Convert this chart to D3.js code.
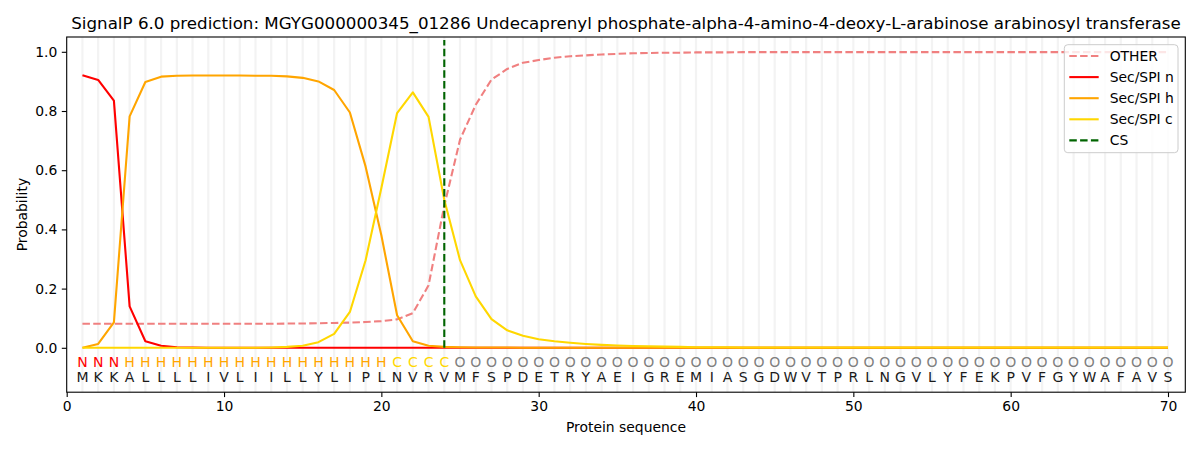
<!DOCTYPE html>
<html>
<head>
<meta charset="utf-8">
<script src="https://cdn.jsdelivr.net/npm/d3@7"></script>
<style>
body { margin: 0; background: #fff; }
svg { display: block; font-family: "DejaVu Sans", sans-serif; }
</style>
</head>
<body>
<svg id="chart" width="1200" height="450"></svg>
<script>
const titleText = "SignalP 6.0 prediction: MGYG000000345_01286 Undecaprenyl phosphate-alpha-4-amino-4-deoxy-L-arabinose arabinosyl transferase";
const sequence = "MKKALLLLIVLIILLYLIPLNVRVMFSPDETRYAEIGREMIASGDWVTPRLNGVLYFEKPVFGYWAFAVS".split("");
const classes = "NNNHHHHHHHHHHHHHHHHHCCCCOOOOOOOOOOOOOOOOOOOOOOOOOOOOOOOOOOOOOOOOOOOOOO".split("");
const positions = d3.range(1, 71);

const otherVals = [
  0.081,0.081,0.081,0.081,0.081,0.081,0.081,0.081,0.081,0.081,
  0.081,0.081,0.081,0.082,0.082,0.083,0.084,0.085,0.087,0.090,
  0.096,0.117,0.211,0.480,0.703,0.821,0.906,0.942,0.963,0.972,
  0.980,0.985,0.988,0.991,0.993,0.995,0.996,0.997,0.997,0.998,
  0.998,0.998,0.999,0.999,0.999,0.999,0.999,0.999,0.999,0.999,
  0.999,0.999,0.999,0.999,0.999,0.999,0.999,0.999,0.999,0.999,
  0.999,0.999,0.999,0.999,0.999,0.999,0.999,0.999,0.999,0.999
];
const nVals = [
  0.921,0.905,0.835,0.140,0.022,0.007,0.002,0.001,0,0,
  0,0,0,0,0,0,0,0,0,0,
  0,0,0,0,0,0,0,0,0,0,
  0,0,0,0,0,0,0,0,0,0,
  0,0,0,0,0,0,0,0,0,0,
  0,0,0,0,0,0,0,0,0,0,
  0,0,0,0,0,0,0,0,0,0
];
const hVals = [
  0.000,0.013,0.086,0.782,0.898,0.916,0.919,0.920,0.920,0.920,
  0.920,0.919,0.919,0.917,0.912,0.900,0.871,0.795,0.612,0.380,
  0.110,0.022,0.007,0.003,0.002,0.001,0.001,0.001,0,0,
  0,0,0,0,0,0,0,0,0,0,
  0,0,0,0,0,0,0,0,0,0,
  0,0,0,0,0,0,0,0,0,0,
  0,0,0,0,0,0,0,0,0,0
];
const cVals = [
  0,0,0,0,0,0,0,0,0,0,
  0,0,0.001,0.003,0.007,0.019,0.047,0.121,0.296,0.540,
  0.793,0.863,0.780,0.500,0.296,0.174,0.097,0.059,0.041,0.029,
  0.022,0.017,0.013,0.010,0.008,0.006,0.005,0.004,0.003,0.002,
  0.002,0.002,0.001,0.001,0.001,0.001,0.001,0.001,0.001,0.001,
  0.001,0.001,0.001,0.001,0.001,0.001,0.001,0.001,0.001,0.001,
  0.001,0.001,0.001,0.001,0.001,0.001,0.001,0.001,0.001,0.001
];
const csPosition = 24;
const csTop = 1.04;
const xTicks = [0,10,20,30,40,50,60,70];
const yTicks = [0.0,0.2,0.4,0.6,0.8,1.0];

const seriesNames = ["OTHER","Sec/SPI n","Sec/SPI h","Sec/SPI c"];
const seriesValues = [otherVals, nVals, hVals, cVals];
const seriesColors = ["#f08080","#ff0000","#ffa500","#ffd700"];
const seriesDash = ["7.5,3.3", null, null, null];
const classColors = {N:"#ff0000", H:"#ffa500", C:"#ffd700", O:"#808080"};

const svg = d3.select("#chart");
const L = 66.7, R = 1185.3, T = 37, B = 392.2;
const x = d3.scaleLinear().domain([0, 71.1]).range([L, R]);
const y = d3.scaleLinear().domain([-0.15, 1.05]).range([B, T]);

svg.append("rect").attr("width",1200).attr("height",450).attr("fill","#fff");

// vertical grid lines per residue
svg.append("g").selectAll("line").data(positions).join("line")
  .attr("x1", d => x(d)).attr("x2", d => x(d))
  .attr("y1", T).attr("y2", B)
  .attr("stroke", "#f3f3f3").attr("stroke-width", 2.2);

// series lines
const lineGen = d3.line().x((d,i) => x(positions[i])).y(d => y(d));
seriesValues.forEach((vals, k) => {
  svg.append("path").datum(vals)
    .attr("d", lineGen)
    .attr("fill","none")
    .attr("stroke", seriesColors[k])
    .attr("stroke-width", 2.1)
    .attr("stroke-linejoin","round")
    .attr("stroke-dasharray", seriesDash[k]);
});

// CS line
svg.append("line")
  .attr("x1", x(csPosition)).attr("x2", x(csPosition))
  .attr("y1", y(0)).attr("y2", y(csTop))
  .attr("stroke", "#006400").attr("stroke-width", 2.1)
  .attr("stroke-dasharray", "7.5,3.3");

// letters
svg.append("g").selectAll("text").data(classes).join("text")
  .attr("x", (d,i) => x(positions[i])).attr("y", 366.7)
  .attr("text-anchor","middle").attr("font-size", 14)
  .attr("fill", d => classColors[d]).text(d => d);
svg.append("g").selectAll("text").data(sequence).join("text")
  .attr("x", (d,i) => x(positions[i])).attr("y", 381.7)
  .attr("text-anchor","middle").attr("font-size", 14)
  .attr("fill", "#1a1a1a").text(d => d);

// axes frame
svg.append("rect").attr("x", L).attr("y", T).attr("width", R-L).attr("height", B-T)
  .attr("fill","none").attr("stroke","#000").attr("stroke-width",1.1);

// x axis
const xAxis = d3.axisBottom(x).tickValues(xTicks).tickFormat(d3.format("d")).tickSize(4.9).tickPadding(4);
const gx = svg.append("g").attr("transform", `translate(0,${B})`).call(xAxis);
gx.select(".domain").remove();
gx.selectAll("text").attr("font-size", 13.9).attr("font-family","DejaVu Sans").attr("fill","#000");
gx.selectAll("line").attr("stroke","#000").attr("stroke-width",1.1);

// y axis
const yAxis = d3.axisLeft(y).tickValues(yTicks).tickFormat(d3.format(".1f")).tickSize(4.9).tickPadding(4.5);
const gy = svg.append("g").attr("transform", `translate(${L},0)`).call(yAxis);
gy.select(".domain").remove();
gy.selectAll("text").attr("font-size", 13.9).attr("font-family","DejaVu Sans").attr("fill","#000");
gy.selectAll("line").attr("stroke","#000").attr("stroke-width",1.1);

// labels
svg.append("text").attr("x", (L+R)/2).attr("y", 28.5).attr("text-anchor","middle")
  .attr("font-size", 16.7).attr("fill","#000").text(titleText);
svg.append("text").attr("x", (L+R)/2).attr("y", 432).attr("text-anchor","middle")
  .attr("font-size", 13.9).attr("fill","#000").text("Protein sequence");
svg.append("text").attr("transform", `translate(26.5,${(T+B)/2}) rotate(-90)`).attr("text-anchor","middle")
  .attr("font-size", 13.9).attr("fill","#000").text("Probability");

// legend
const lg = svg.append("g");
lg.append("rect").attr("x", 1064.3).attr("y", 44.7).attr("width", 113.7).attr("height", 108)
  .attr("rx", 3.5).attr("fill","#fff").attr("fill-opacity",0.8)
  .attr("stroke","#cccccc").attr("stroke-width",1);
const legendItems = seriesNames.map((n,k) => ({name:n, color:seriesColors[k], dash:seriesDash[k]}))
  .concat([{name:"CS", color:"#006400", dash:"7.5,3.3"}]);
legendItems.forEach((it, i) => {
  const yy = 56 + i*21.1;
  lg.append("line").attr("x1", 1069.3).attr("x2", 1098.7).attr("y1", yy).attr("y2", yy)
    .attr("stroke", it.color).attr("stroke-width", 2.1).attr("stroke-dasharray", it.dash);
  lg.append("text").attr("x", 1109.7).attr("y", yy + 5).attr("font-size", 13.9).attr("fill","#000").text(it.name);
});
</script>
</body>
</html>
